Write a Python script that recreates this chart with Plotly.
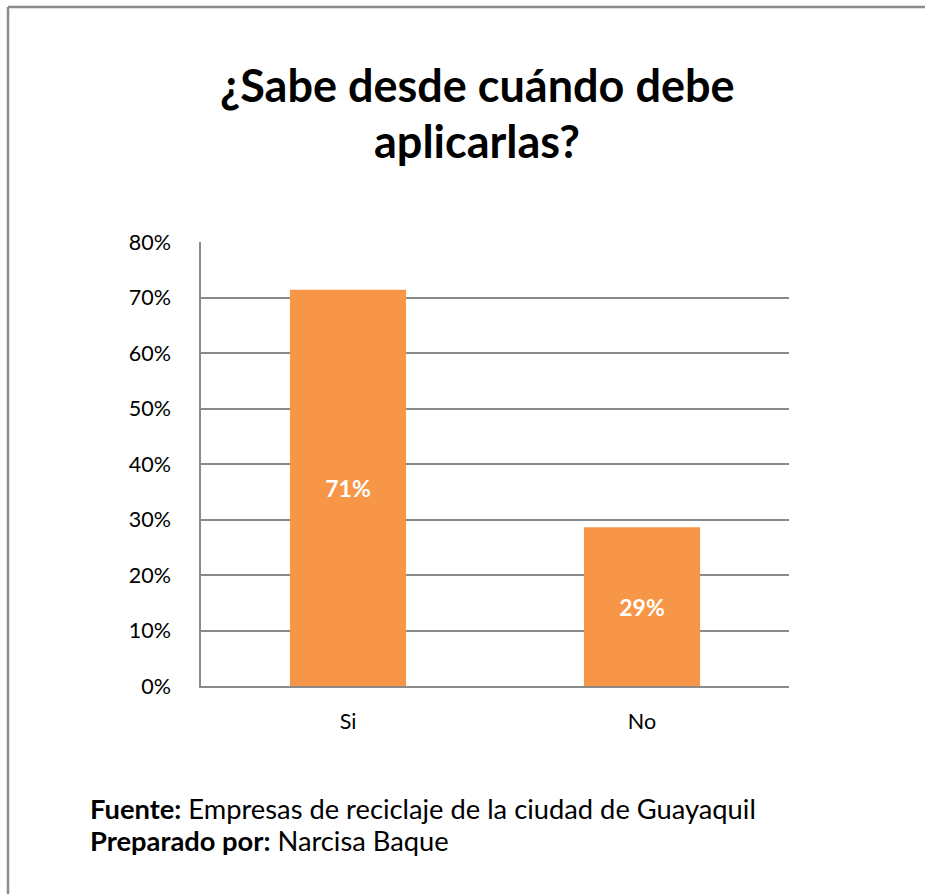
import plotly.graph_objects as go

categories = ["Si", "No"]
values = [0.714, 0.286]
labels = ["71%", "29%"]
tick_vals = [0, 0.1, 0.2, 0.3, 0.4, 0.5, 0.6, 0.7, 0.8]
tick_text = ["0%", "10%", "20%", "30%", "40%", "50%", "60%", "70%", "80%"]
title_lines = ["¿Sabe desde cuándo debe", "aplicarlas?"]

W, H = 925, 894
L, R, T, B = 201, 136, 242, 208
PW, PH = W - L - R, H - T - B

def px(x):
    return (x - L) / PW

def py(y):
    return (H - B - y) / PH

FONT = "Lato, Carlito, Calibri, sans-serif"

fig = go.Figure()
fig.add_trace(go.Bar(
    x=categories, y=values, text=labels,
    textposition="inside", insidetextanchor="middle",
    textfont=dict(family=FONT, size=23, color="white", weight="bold"),
    marker=dict(color="#F79646", line=dict(width=0)),
    width=0.395, cliponaxis=False,
))

ann = [
    dict(xref="paper", yref="paper", x=px(477), y=py(85),
         xanchor="center", yanchor="middle", showarrow=False,
         text="<b>" + title_lines[0] + "</b>",
         font=dict(family=FONT, size=45, color="black")),
    dict(xref="paper", yref="paper", x=px(477), y=py(141),
         xanchor="center", yanchor="middle", showarrow=False,
         text="<b>" + title_lines[1] + "</b>",
         font=dict(family=FONT, size=45, color="black")),
    dict(xref="paper", yref="paper", x=px(88), y=py(808),
         xanchor="left", yanchor="middle", showarrow=False,
         text="<b>Fuente:</b> Empresas de reciclaje de la ciudad de Guayaquil",
         font=dict(family=FONT, size=27.3, color="black")),
    dict(xref="paper", yref="paper", x=px(88), y=py(840),
         xanchor="left", yanchor="middle", showarrow=False,
         text="<b>Preparado por:</b> Narcisa Baque",
         font=dict(family=FONT, size=27.3, color="black")),
]

fig.update_layout(
    width=W, height=H,
    margin=dict(l=L, r=R, t=T, b=B),
    paper_bgcolor="white", plot_bgcolor="white",
    showlegend=False,
    font=dict(family=FONT, size=21, color="black"),
    yaxis=dict(
        range=[0, 0.8], tickvals=tick_vals, ticktext=tick_text,
        showgrid=True, gridcolor="#8a8a8a", gridwidth=1.5,
        showline=True, linecolor="#8a8a8a", linewidth=1.5,
        ticks="", ticklen=0, zeroline=False, ticklabelstandoff=24,
        tickfont=dict(family=FONT, size=21.5, color="black"),
    ),
    xaxis=dict(
        showline=True, linecolor="#8a8a8a", linewidth=1.5,
        ticks="", ticklabelstandoff=15,
        tickfont=dict(family=FONT, size=21.5, color="black"),
    ),
    shapes=[
        dict(type="line", xref="paper", yref="paper",
             x0=px(8), x1=px(925), y0=py(7), y1=py(7),
             line=dict(color="#8c8c8c", width=2.5)),
        dict(type="line", xref="paper", yref="paper",
             x0=px(8), x1=px(8), y0=py(7), y1=py(894),
             line=dict(color="#8c8c8c", width=2.5)),
    ],
    annotations=ann,
)

fig.write_html("out.html")
